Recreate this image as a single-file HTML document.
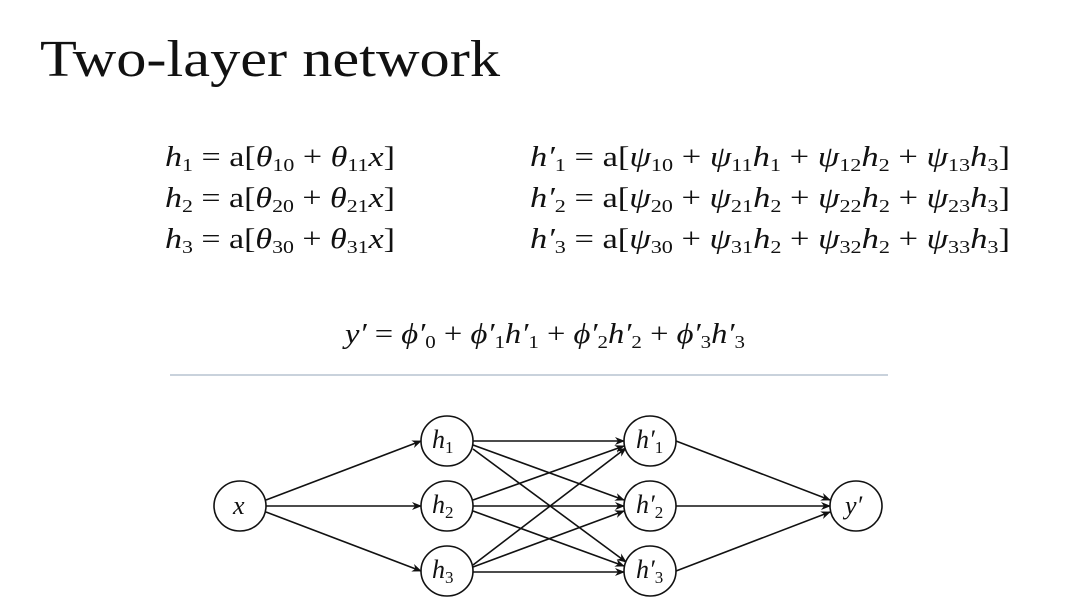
<!DOCTYPE html>
<html><head><meta charset="utf-8"><style>
body{margin:0;background:#fff;width:1092px;height:606px;overflow:hidden}
svg{display:block}
text{font-family:"Liberation Serif",serif;fill:#111}
.i{font-style:italic}
</style></head><body>
<svg width="1092" height="606" viewBox="0 0 1092 606">
<defs><marker id="a" markerWidth="10" markerHeight="8" refX="9" refY="4" orient="auto" markerUnits="userSpaceOnUse"><path d="M0,0 L10,4 L0,8 L3,4 z" fill="#111"/></marker></defs>
<text x="40" y="76" font-size="52" textLength="460" lengthAdjust="spacingAndGlyphs">Two-layer network</text>
<g font-size="28">
<text x="165" y="166" textLength="230" lengthAdjust="spacingAndGlyphs"><tspan class="i">h</tspan><tspan font-size="18" dy="5">1</tspan><tspan dy="-5"> = a[</tspan><tspan class="i">θ</tspan><tspan font-size="18" dy="5">10</tspan><tspan dy="-5"> + </tspan><tspan class="i">θ</tspan><tspan font-size="18" dy="5">11</tspan><tspan dy="-5" class="i">x</tspan><tspan>]</tspan></text>
<text x="165" y="207" textLength="230" lengthAdjust="spacingAndGlyphs"><tspan class="i">h</tspan><tspan font-size="18" dy="5">2</tspan><tspan dy="-5"> = a[</tspan><tspan class="i">θ</tspan><tspan font-size="18" dy="5">20</tspan><tspan dy="-5"> + </tspan><tspan class="i">θ</tspan><tspan font-size="18" dy="5">21</tspan><tspan dy="-5" class="i">x</tspan><tspan>]</tspan></text>
<text x="165" y="248" textLength="230" lengthAdjust="spacingAndGlyphs"><tspan class="i">h</tspan><tspan font-size="18" dy="5">3</tspan><tspan dy="-5"> = a[</tspan><tspan class="i">θ</tspan><tspan font-size="18" dy="5">30</tspan><tspan dy="-5"> + </tspan><tspan class="i">θ</tspan><tspan font-size="18" dy="5">31</tspan><tspan dy="-5" class="i">x</tspan><tspan>]</tspan></text>
<text x="530" y="166" textLength="480" lengthAdjust="spacingAndGlyphs"><tspan class="i">h′</tspan><tspan font-size="18" dy="5">1</tspan><tspan dy="-5"> = a[</tspan><tspan class="i">ψ</tspan><tspan font-size="18" dy="5">10</tspan><tspan dy="-5"> + </tspan><tspan class="i">ψ</tspan><tspan font-size="18" dy="5">11</tspan><tspan dy="-5" class="i">h</tspan><tspan font-size="18" dy="5">1</tspan><tspan dy="-5"> + </tspan><tspan class="i">ψ</tspan><tspan font-size="18" dy="5">12</tspan><tspan dy="-5" class="i">h</tspan><tspan font-size="18" dy="5">2</tspan><tspan dy="-5"> + </tspan><tspan class="i">ψ</tspan><tspan font-size="18" dy="5">13</tspan><tspan dy="-5" class="i">h</tspan><tspan font-size="18" dy="5">3</tspan><tspan dy="-5">]</tspan></text>
<text x="530" y="207" textLength="480" lengthAdjust="spacingAndGlyphs"><tspan class="i">h′</tspan><tspan font-size="18" dy="5">2</tspan><tspan dy="-5"> = a[</tspan><tspan class="i">ψ</tspan><tspan font-size="18" dy="5">20</tspan><tspan dy="-5"> + </tspan><tspan class="i">ψ</tspan><tspan font-size="18" dy="5">21</tspan><tspan dy="-5" class="i">h</tspan><tspan font-size="18" dy="5">2</tspan><tspan dy="-5"> + </tspan><tspan class="i">ψ</tspan><tspan font-size="18" dy="5">22</tspan><tspan dy="-5" class="i">h</tspan><tspan font-size="18" dy="5">2</tspan><tspan dy="-5"> + </tspan><tspan class="i">ψ</tspan><tspan font-size="18" dy="5">23</tspan><tspan dy="-5" class="i">h</tspan><tspan font-size="18" dy="5">3</tspan><tspan dy="-5">]</tspan></text>
<text x="530" y="248" textLength="480" lengthAdjust="spacingAndGlyphs"><tspan class="i">h′</tspan><tspan font-size="18" dy="5">3</tspan><tspan dy="-5"> = a[</tspan><tspan class="i">ψ</tspan><tspan font-size="18" dy="5">30</tspan><tspan dy="-5"> + </tspan><tspan class="i">ψ</tspan><tspan font-size="18" dy="5">31</tspan><tspan dy="-5" class="i">h</tspan><tspan font-size="18" dy="5">2</tspan><tspan dy="-5"> + </tspan><tspan class="i">ψ</tspan><tspan font-size="18" dy="5">32</tspan><tspan dy="-5" class="i">h</tspan><tspan font-size="18" dy="5">2</tspan><tspan dy="-5"> + </tspan><tspan class="i">ψ</tspan><tspan font-size="18" dy="5">33</tspan><tspan dy="-5" class="i">h</tspan><tspan font-size="18" dy="5">3</tspan><tspan dy="-5">]</tspan></text>
<text x="345" y="343" textLength="400" lengthAdjust="spacingAndGlyphs"><tspan class="i">y′</tspan><tspan> = </tspan><tspan class="i">ϕ′</tspan><tspan font-size="18" dy="5">0</tspan><tspan dy="-5"> + </tspan><tspan class="i">ϕ′</tspan><tspan font-size="18" dy="5">1</tspan><tspan dy="-5" class="i">h′</tspan><tspan font-size="18" dy="5">1</tspan><tspan dy="-5"> + </tspan><tspan class="i">ϕ′</tspan><tspan font-size="18" dy="5">2</tspan><tspan dy="-5" class="i">h′</tspan><tspan font-size="18" dy="5">2</tspan><tspan dy="-5"> + </tspan><tspan class="i">ϕ′</tspan><tspan font-size="18" dy="5">3</tspan><tspan dy="-5" class="i">h′</tspan><tspan font-size="18" dy="5">3</tspan></text>
</g>
<line x1="170" y1="375" x2="888" y2="375" stroke="#a9b8c8" stroke-width="1.2"/>
<g stroke="#111" stroke-width="1.6" marker-end="url(#a)">
<line x1="266" y1="500" x2="421" y2="441"/>
<line x1="266" y1="506" x2="421" y2="506"/>
<line x1="266" y1="512" x2="421" y2="571"/>
<line x1="473" y1="441" x2="624" y2="441"/>
<line x1="473" y1="445" x2="624" y2="500"/>
<line x1="473" y1="449" x2="626" y2="562"/>
<line x1="473" y1="500" x2="624" y2="446"/>
<line x1="473" y1="506" x2="624" y2="506"/>
<line x1="473" y1="511" x2="624" y2="566"/>
<line x1="473" y1="565" x2="626" y2="448"/>
<line x1="473" y1="567" x2="624" y2="511"/>
<line x1="473" y1="572" x2="624" y2="572"/>
<line x1="676" y1="441" x2="830" y2="500"/>
<line x1="676" y1="506" x2="830" y2="506"/>
<line x1="676" y1="571" x2="830" y2="512"/>
</g>
<g fill="#fff" stroke="#111" stroke-width="1.6">
<ellipse cx="240" cy="506" rx="26" ry="25"/>
<ellipse cx="447" cy="441" rx="26" ry="25"/>
<ellipse cx="447" cy="506" rx="26" ry="25"/>
<ellipse cx="447" cy="571" rx="26" ry="25"/>
<ellipse cx="650" cy="441" rx="26" ry="25"/>
<ellipse cx="650" cy="506" rx="26" ry="25"/>
<ellipse cx="650" cy="571" rx="26" ry="25"/>
<ellipse cx="856" cy="506" rx="26" ry="25"/>
</g>
<g font-size="26">
<text x="233" y="514" class="i">x</text>
<text x="432" y="448"><tspan class="i">h</tspan><tspan font-size="17" dy="5">1</tspan></text>
<text x="432" y="513"><tspan class="i">h</tspan><tspan font-size="17" dy="5">2</tspan></text>
<text x="432" y="578"><tspan class="i">h</tspan><tspan font-size="17" dy="5">3</tspan></text>
<text x="636" y="448"><tspan class="i">h′</tspan><tspan font-size="17" dy="5">1</tspan></text>
<text x="636" y="513"><tspan class="i">h′</tspan><tspan font-size="17" dy="5">2</tspan></text>
<text x="636" y="578"><tspan class="i">h′</tspan><tspan font-size="17" dy="5">3</tspan></text>
<text x="845" y="514" class="i">y′</text>
</g>
</svg>
</body></html>
